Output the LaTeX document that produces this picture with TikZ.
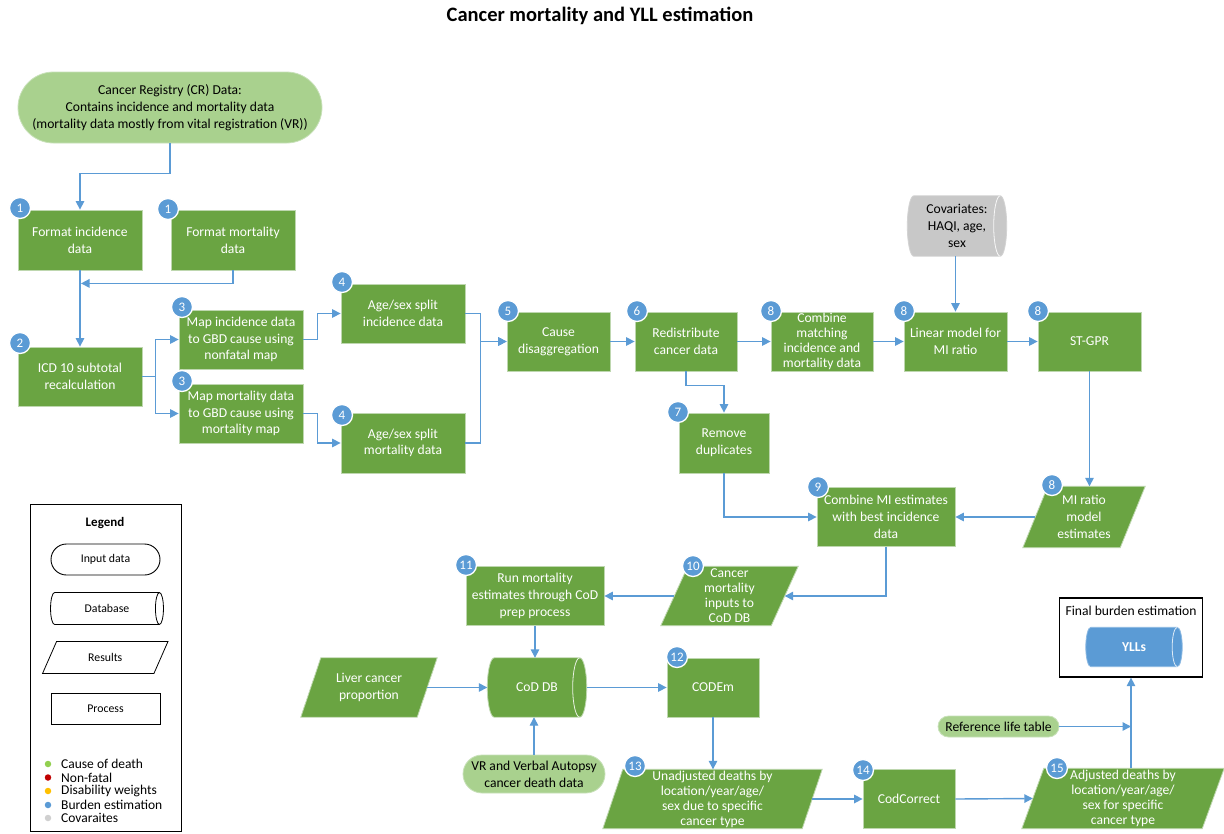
\documentclass[tikz,border=0pt]{standalone}
\usepackage{fontspec}
\setmainfont{Carlito}
\usetikzlibrary{shapes.misc,arrows.meta,calc,backgrounds}
\newcommand\fsz[2]{\fontsize{#1}{#2}\selectfont}
\definecolor{pgreen}{RGB}{106,164,66}
\definecolor{pborder}{RGB}{190,215,175}
\definecolor{lgreen}{RGB}{169,209,142}
\definecolor{lborder}{RGB}{200,225,185}
\definecolor{bblue}{RGB}{91,155,213}
\definecolor{cgrey}{RGB}{200,200,200}
% database (horizontal cylinder) drawn behind a node
\newcommand\dbshape[5]{%
 \path[fill=#3, draw=#4, line width=0.8pt] let \p1=(#1.north west), \p2=(#1.south east), \n1={(\y1-\y2)/2} in
  (\x1+#2,\y1) -- (\x2-#2,\y1) arc[start angle=90, end angle=-90, x radius=#2, y radius=\n1]
  -- (\x1+#2,\y2) arc[start angle=270, end angle=90, x radius=#2, y radius=\n1] -- cycle;
 \draw[#5, line width=0.8pt] let \p1=(#1.north west), \p2=(#1.south east), \n1={(\y1-\y2)/2} in
  (\x2-#2,\y1) arc[start angle=90, end angle=270, x radius=#2, y radius=\n1];}
% parallelogram drawn behind a node
\newcommand\parashape[4]{%
 \path[fill=#3, draw=#4, line width=0.8pt] let \p1=(#1.north west), \p2=(#1.south east) in
  (\x1+#2/2,\y1) -- (\x2+#2/2,\y1) -- (\x2-#2/2,\y2) -- (\x1-#2/2,\y2) -- cycle;}
\tikzset{
 sz/.style 2 args={minimum width=#1pt, minimum height=#2pt},
 base/.style={inner sep=0pt, align=center, font=\fsz{13.6}{16.7}},
 four/.style={font=\fsz{13.6}{15}},
 proc/.style={base, rectangle, fill=pgreen, draw=pborder, line width=0.8pt, text=white},
 inp/.style={base, rounded rectangle, fill=lgreen, draw=lborder, line width=0.8pt, text=black},
 hid/.style={base, rectangle, text=white},
 badge/.style={circle, fill=bblue, draw=white, line width=1.3pt, text=white, minimum size=21pt, inner sep=0pt, font=\fsz{13}{14}},
 arr/.style={draw=bblue, line width=1.4pt, -{Triangle[length=8.5pt,width=8.5pt]}},
 leg/.style={inner sep=0pt, align=center, font=\fsz{11.8}{13}, text=black, draw=black, line width=0.9pt},
 legtxt/.style={inner sep=0pt, anchor=west, font=\fsz{13.5}{14}, text=black},
 dot/.style={circle, inner sep=0pt, minimum size=6.5pt},
}
\begin{document}
\begin{tikzpicture}[x=1pt,y=-1pt]
\useasboundingbox (0,0) rectangle (1224,833);
\begin{scope}[on background layer]
\fill[white] (0,0) rectangle (1224,833);
\end{scope}

\node[font=\bfseries\fsz{20.5}{24}] (title) at (600,16) {Cancer mortality and YLL estimation};

% ---- nodes
\node[inp, sz={304}{71}] (cr) at (170,107.5) {Cancer Registry (CR) Data:\\Contains incidence and mortality data\\(mortality data mostly from vital registration (VR))};
\node[proc, sz={124}{60}] (fmtinc) at (80,240) {Format incidence\\data};
\node[proc, sz={124}{60}] (fmtmort) at (233,240) {Format mortality\\data};
\node[proc, sz={124}{59}] (icd) at (80,376.5) {ICD 10 subtotal\\recalculation};
\node[proc, sz={124}{59}] (mapinc) at (241,339.5) {Map incidence data\\to GBD cause using\\nonfatal map};
\node[proc, sz={124}{59}] (mapmort) at (241,413.5) {Map mortality data\\to GBD cause using\\mortality map};
\node[proc, sz={124}{59}] (ageinc) at (403,313.5) {Age/sex split\\incidence data};
\node[proc, sz={124}{60}] (agemort) at (403,443) {Age/sex split\\mortality data};
\node[proc, sz={103}{59}] (causedis) at (558.5,341.5) {Cause\\disaggregation};
\node[proc, sz={102}{59}] (redist) at (686,341.5) {Redistribute\\cancer data};
\node[proc, sz={102}{59}, four] (combmatch) at (822,341.5) {Combine\\matching\\incidence and\\mortality data};
\node[proc, sz={103}{59}] (linmod) at (955.5,341.5) {Linear model for\\MI ratio};
\node[proc, sz={103}{59}] (stgpr) at (1089.5,341.5) {ST-GPR};
\node[hid, sz={99}{60}, text=black] (covar) at (957,226) {Covariates:\\HAQI, age,\\sex};
\node[proc, sz={90}{60}] (remdup) at (724,443) {Remove\\duplicates};
\node[proc, sz={138}{59}] (combmi) at (886,517) {Combine MI estimates\\with best incidence\\data};
\node[hid, sz={97}{61}] (miratio) at (1084,517) {MI ratio\\model\\estimates};
\node[hid, sz={110}{59}, four] (cmi) at (729.5,596) {Cancer\\mortality\\inputs to\\CoD DB};
\node[proc, sz={138}{59}] (runmort) at (535,596) {Run mortality\\estimates through CoD\\prep process};
\node[hid, sz={99}{59}] (coddb) at (537,687.5) {CoD DB};
\node[hid, sz={116}{59}] (liver) at (369,687.5) {Liver cancer\\proportion};
\node[proc, sz={92}{59}] (codem) at (713,687.5) {CODEm};
\node[inp, sz={142}{38}] (vr) at (534,774) {VR and Verbal Autopsy\\cancer death data};
\node[hid, sz={199}{59}, four] (unadj) at (712.5,799) {Unadjusted deaths by\\location/year/age/\\sex due to specific\\cancer type};
\node[proc, sz={92}{59}] (codcorr) at (909,799) {CodCorrect};
\node[hid, sz={180}{60}, four] (adj) at (1123,798.5) {Adjusted deaths by\\location/year/age/\\sex for specific\\cancer type};
\node[inp, sz={121}{21}] (reflt) at (998.5,726.5) {Reference life table};
\node[draw=black, line width=1.3pt, sz={143}{79}] (final) at (1131,637.5) {};
\node[font=\fsz{13.6}{15}] (finalT) at (1131,611) {Final burden estimation};
\node[hid, sz={96}{39}, font=\bfseries\fsz{13.6}{15}] (yll) at (1134,647) {YLLs};

% ---- shapes behind nodes
\begin{scope}[on background layer]
\dbshape{covar}{6.5pt}{cgrey}{cgrey!80!white}{white!85!cgrey}
\dbshape{coddb}{7pt}{pgreen}{pborder}{white!85!pgreen}
\dbshape{yll}{5pt}{bblue}{bblue!70!white}{white!80!bblue}
\parashape{miratio}{25pt}{pgreen}{pborder}
\parashape{cmi}{27pt}{pgreen}{pborder}
\parashape{liver}{20pt}{pgreen}{pborder}
\parashape{unadj}{20pt}{pgreen}{pborder}
\parashape{adj}{22pt}{pgreen}{pborder}
\end{scope}

% ---- badges
\node[badge] (b1) at (20,208) {1};
\node[badge] (b2) at (168,209) {1};
\node[badge] (b3) at (20,343) {2};
\node[badge] (b4) at (182,307) {3};
\node[badge] (b5) at (182,381) {3};
\node[badge] (b6) at (342,282) {4};
\node[badge] (b7) at (342,415) {4};
\node[badge] (b8) at (508,311) {5};
\node[badge] (b9) at (637,311) {6};
\node[badge] (b10) at (771,311) {8};
\node[badge] (b11) at (678,412) {7};
\node[badge] (b12) at (904,311) {8};
\node[badge] (b13) at (1038,311) {8};
\node[badge] (b14) at (1052,485) {8};
\node[badge] (b15) at (818,487) {9};
\node[badge] (b16) at (693,566) {10};
\node[badge] (b17) at (466,565) {11};
\node[badge] (b18) at (677,657) {12};
\node[badge] (b19) at (635,766) {13};
\node[badge] (b20) at (863,770) {14};
\node[badge] (b21) at (1057,768) {15};

% ---- connectors
\draw[arr] (cr.south) -- ++(0,30) -| (fmtinc.north);
\draw[arr] (fmtmort.south) |- ($(fmtinc.south)+(1,13)$);
\draw[arr] (fmtinc) -- (icd);
\draw[arr] (icd.east) -- ++(13,0) |- (mapinc.west);
\draw[arr] (icd.east) -- ++(13,0) |- (mapmort.west);
\draw[arr] (mapinc.east) -- ++(14,0) |- (ageinc.west);
\draw[arr] (mapmort.east) -- ++(14,0) |- (agemort.west);
\draw[arr] (ageinc.east) -- ++(15,0) |- (causedis.west);
\draw[arr] (agemort.east) -- ++(15,0) |- (causedis.west);
\draw[arr] (causedis) -- (redist);
\draw[arr] (redist) -- (combmatch);
\draw[arr] (combmatch) -- (linmod);
\draw[arr] (linmod) -- (stgpr);
\draw[arr] (linmod.north |- covar.south) -- (linmod.north);
\draw[arr] (redist.south) -- ++(0,14) -| (remdup.north);
\draw[arr] (remdup.south) |- (combmi.west);
\draw[arr] (stgpr.south) -- (stgpr.south |- miratio.north);
\draw[arr] (miratio.west) -- (combmi.east);
\draw[arr] (combmi.south) |- (cmi.east);
\draw[arr] (cmi.west) -- (runmort.east);
\draw[arr] (runmort.south) -- (runmort.south |- coddb.north);
\draw[arr] (liver.east) -- (coddb.west);
\draw[arr] (coddb.east) -- (codem.west);
\draw[arr] (vr.north) -- (vr.north |- coddb.south);
\draw[arr] (codem.south) -- (codem.south |- unadj.north);
\draw[arr] (unadj.east) -- (codcorr.west);
\draw[arr] (codcorr.east) -- (adj.west);
\draw[arr] (final.south |- adj.north) -- (final.south);
\draw[arr] (reflt.east) -- (reflt.east -| final.south);

% ---- legend
\node[draw=black, line width=1pt, sz={151}{327}] (legend) at (105.5,668) {};
\node[font=\bfseries\fsz{13}{14}] (legT) at (105,523) {Legend};
\node[leg, rounded rectangle, sz={109}{31}] (lin) at (105.5,559.5) {Input data};
\node[leg, draw=none, sz={112}{31}] (ldb) at (107,608.5) {Database};
\node[leg, draw=none, sz={110.5}{31}] (lres) at (105.25,657.5) {Results};
\node[leg, rectangle, sz={109}{31}] (lproc) at (105.5,708.5) {Process};
\begin{scope}[on background layer]
\dbshape{ldb}{4pt}{white}{black}{black}
\parashape{lres}{14pt}{white}{black}
\end{scope}
\node[dot, fill={rgb,255:red,146;green,208;blue,80}] (d1) at (48,764) {};
\node[dot, fill={rgb,255:red,192;green,0;blue,0}] (d2) at (48,777.5) {};
\node[dot, fill={rgb,255:red,255;green,192;blue,0}] (d3) at (48,791) {};
\node[dot, fill=bblue] (d4) at (48,805) {};
\node[dot, fill={rgb,255:red,208;green,208;blue,208}] (d5) at (48,818) {};
\node[legtxt] (t1) at (61,764) {Cause of death};
\node[legtxt] (t2) at (61,777.5) {Non-fatal};
\node[legtxt] (t3) at (61,791) {Disability weights};
\node[legtxt] (t4) at (61,805) {Burden estimation};
\node[legtxt] (t5) at (61,818) {Covaraites};
\end{tikzpicture}
\end{document}
